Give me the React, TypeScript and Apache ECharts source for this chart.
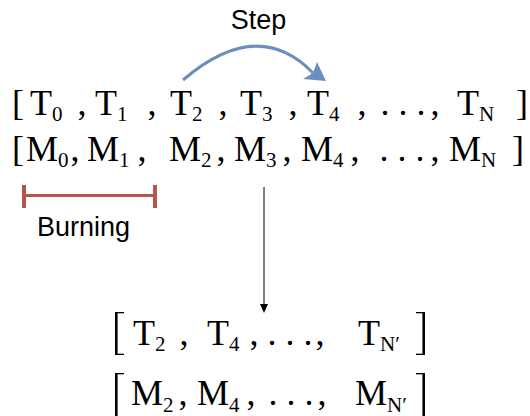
import React, { useEffect, useRef } from "react";
import * as echarts from "echarts";

// ---- content (data) ----
const symbols = ["T", "M"];
const fullIndices = ["0", "1", "2", "3", "4", "N"];
const keptIndices = ["2", "4", "N′"];
const stepLabel = "Step";
const burnLabel = "Burning";
const ellipsis = ". . .";

// ---- layout ----
const SERIF = "'Liberation Serif', 'Times New Roman', serif";
const SANS = "'Liberation Sans', Arial, Helvetica, sans-serif";
const FS = 36;
const SUB_FS = 21;
const SUB_DROP = 6.5;
const SUB_OFF: Record<string, number> = { T: 22, M: 32 };

const FULL_BASE: Record<string, number> = { T: 115, M: 161 };
const FULL_X: Record<string, number[]> = {
  T: [30, 95, 170, 240, 307, 457],
  M: [26, 87, 169, 234, 301, 449],
};
const FULL_COMMA: Record<string, number[]> = {
  T: [82, 152, 223, 293, 362, 435],
  M: [75, 142, 221, 287, 355, 435],
};
const FULL_DOTS: Record<string, number> = { T: 403, M: 402 };
const FULL_LB: Record<string, number> = { T: 12, M: 12 };
const FULL_RB: Record<string, number> = { T: 516, M: 512 };

const KEPT_BASE: Record<string, number> = { T: 345, M: 405.5 };
const KEPT_X: Record<string, number[]> = {
  T: [133, 207, 358],
  M: [131, 197, 355],
};
const KEPT_COMMA: Record<string, number[]> = {
  T: [184, 254, 320],
  M: [183, 251, 322],
};
const KEPT_DOTS: Record<string, number> = { T: 290, M: 291 };
const KEPT_BRACKET_Y: Record<string, [number, number]> = {
  T: [312, 355],
  M: [373, 419],
};

const centerY = (baseline: number, fs: number, k = 0.3375) => baseline - k * fs;

function serifText(text: string, x: number, baseline: number, fs: number, align = "left") {
  return {
    type: "text",
    x,
    y: centerY(baseline, fs),
    style: {
      text,
      font: `${fs}px ${SERIF}`,
      fill: "#000",
      align,
      verticalAlign: "middle",
    },
  };
}

function buildRow(
  sym: string,
  indices: string[],
  xs: number[],
  commas: number[],
  dotsX: number,
  baseline: number
) {
  const els: any[] = [];
  indices.forEach((idx, i) => {
    els.push(serifText(sym, xs[i], baseline, FS));
    els.push(serifText(idx, xs[i] + SUB_OFF[sym], baseline + SUB_DROP, SUB_FS));
  });
  commas.forEach((cx) => els.push(serifText(",", cx, baseline, FS, "center")));
  els.push(serifText(ellipsis, dotsX, baseline, FS, "center"));
  return els;
}

function bigBracket(x: number, y0: number, y1: number, left: boolean) {
  const vx = left ? x : x - 2.6;
  const hx = left ? x : x - 9;
  return [
    { type: "rect", shape: { x: vx, y: y0, width: 2.6, height: y1 - y0 }, style: { fill: "#000" } },
    { type: "rect", shape: { x: hx, y: y0, width: 9, height: 1.3 }, style: { fill: "#000" } },
    { type: "rect", shape: { x: hx, y: y1 - 1.3, width: 9, height: 1.3 }, style: { fill: "#000" } },
  ];
}

export default function App() {
  const ref = useRef<HTMLDivElement>(null);

  useEffect(() => {
    if (!ref.current) return;
    const chart = echarts.init(ref.current, null, { renderer: "svg" });

    const elements: any[] = [];

    // full rows
    symbols.forEach((sym) => {
      const b = FULL_BASE[sym];
      elements.push(...buildRow(sym, fullIndices, FULL_X[sym], FULL_COMMA[sym], FULL_DOTS[sym], b));
      elements.push(serifText("[", FULL_LB[sym], b, FS));
      elements.push(serifText("]", FULL_RB[sym], b, FS));
    });

    // kept rows
    symbols.forEach((sym) => {
      const b = KEPT_BASE[sym];
      elements.push(...buildRow(sym, keptIndices, KEPT_X[sym], KEPT_COMMA[sym], KEPT_DOTS[sym], b));
      const [y0, y1] = KEPT_BRACKET_Y[sym];
      elements.push(...bigBracket(115, y0, y1, true));
      elements.push(...bigBracket(425, y0, y1, false));
    });

    // Step arrow
    elements.push({
      type: "bezierCurve",
      shape: { x1: 183, y1: 80, x2: 313, y2: 73, cpx1: 258, cpy1: 16 },
      style: { stroke: "#6c8ebf", lineWidth: 3, fill: "none" },
    });
    elements.push({
      type: "polygon",
      shape: { points: [[326, 81], [303, 79], [313, 73], [317, 62]] },
      style: { fill: "#6c8ebf" },
    });
    elements.push({
      type: "text",
      x: 258.5,
      y: centerY(29, 27, 0.3465),
      style: { text: stepLabel, font: `27px ${SANS}`, fill: "#000", align: "center", verticalAlign: "middle" },
    });

    // Burning bar
    const red = "#b85450";
    elements.push({ type: "line", shape: { x1: 24, y1: 195.5, x2: 155, y2: 195.5 }, style: { stroke: red, lineWidth: 3 } });
    elements.push({ type: "line", shape: { x1: 24, y1: 185, x2: 24, y2: 208 }, style: { stroke: red, lineWidth: 4 } });
    elements.push({ type: "line", shape: { x1: 155, y1: 185, x2: 155, y2: 208 }, style: { stroke: red, lineWidth: 4 } });
    elements.push({
      type: "text",
      x: 83.5,
      y: centerY(236, 27, 0.3465),
      style: { text: burnLabel, font: `27px ${SANS}`, fill: "#000", align: "center", verticalAlign: "middle" },
    });

    // vertical selection arrow
    elements.push({ type: "line", shape: { x1: 264, y1: 187, x2: 264, y2: 306 }, style: { stroke: "#000", lineWidth: 1 } });
    elements.push({
      type: "polygon",
      shape: { points: [[260, 304], [268, 304], [264, 313]] },
      style: { fill: "#000" },
    });

    chart.setOption({
      animation: false,
      backgroundColor: "#fff",
      graphic: { elements },
    });

    return () => chart.dispose();
  }, []);

  return (
    <div
      ref={ref}
      style={{ position: "fixed", left: 0, top: 0, width: 530, height: 416, background: "#fff" }}
    />
  );
}
